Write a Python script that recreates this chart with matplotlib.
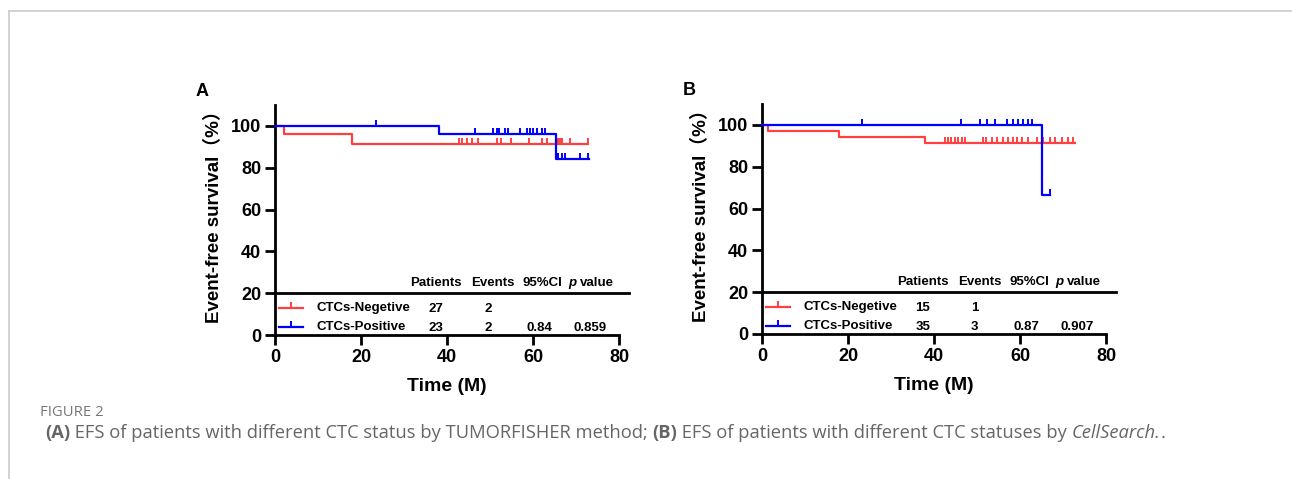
import matplotlib
matplotlib.use("Agg")
import numpy as np
import matplotlib.pyplot as plt
from matplotlib.lines import Line2D

plt.rcParams['font.family'] = ['Liberation Sans', 'Noto Sans CJK SC', 'DejaVu Sans']

# ---- data ----
# panel A (TUMORFISHER)
a_neg_t = [0, 2, 18, 72.9]
a_neg_s = [100, 96.3, 91.5, 91.5]
a_neg_cens = [42.8, 43.5, 44.7, 45.9, 47.3, 51.6, 52.6, 54.8, 59.1, 62.1,
              63.3, 65.9, 66.3, 66.8, 68.6, 72.9]
a_pos_t = [0, 38.2, 65.3, 73.0]
a_pos_s = [100, 96.0, 84.2, 84.2]
a_pos_cens = [23.5, 46.5, 50.8, 51.7, 52.2, 53.5, 54.3, 57.0, 58.5, 59.3,
              60.1, 61.0, 62.0, 62.8, 65.9, 66.7, 67.4, 70.9, 72.9]

# panel B (CellSearch)
b_neg_t = [0, 1.5, 17.9, 38.0, 72.8]
b_neg_s = [100, 97.0, 94.2, 91.4, 91.4]
b_neg_cens = [42.6, 43.3, 44.0, 44.9, 45.6, 46.4, 47.2, 51.5, 52.1, 53.4,
              54.6, 56.1, 57.3, 58.4, 59.2, 60.4, 61.9, 63.9, 65.0, 65.4,
              66.9, 68.1, 69.7, 71.2, 72.4]
b_pos_t = [0, 65.2, 67.0]
b_pos_s = [100, 66.7, 66.7]
b_pos_cens = [23.3, 46.2, 50.7, 52.3, 54.2, 56.9, 58.4, 59.6, 60.8, 61.9,
              62.7, 67.0]

groups = ['CTCs-Negetive', 'CTCs-Positive']
a_patients = ['27', '23']
a_events = ['2', '2']
a_ci = ['', '0.84']
a_p = ['', '0.859']
b_patients = ['15', '35']
b_events = ['1', '3']
b_ci = ['', '0.87']
b_p = ['', '0.907']

red = '#ff4040'
blue = '#0000ff'

W, H = 1292, 479
fig = plt.figure(figsize=(W / 100, H / 100), dpi=100)

# light frame of the figure box
fig.add_artist(Line2D([9 / W, 1], [1 - 11 / H] * 2, transform=fig.transFigure,
                      color='#cccccc', lw=1.2))
fig.add_artist(Line2D([9 / W] * 2, [0, 1 - 11 / H], transform=fig.transFigure,
                      color='#cccccc', lw=1.2))


def km_value(t, s, x):
    idx = np.searchsorted(t, x, side='right') - 1
    return np.array(s)[idx]


def draw_panel(ax, curves, patients, events, ci, pv, letter):
    for t, s, cens, col in curves:
        ax.step(t, s, where='post', color=col, lw=1.6, clip_on=False, zorder=3)
        ax.plot(cens, km_value(t, s, cens), linestyle='none', marker=2,
                markersize=4, markeredgewidth=1.4, color=col, clip_on=False, zorder=3)

    ax.set_xlim(0, 80)
    ax.set_ylim(0, 110)
    ax.set_xticks([0, 20, 40, 60, 80])
    ax.set_yticks([0, 20, 40, 60, 80, 100])
    for sp in ['top', 'right']:
        ax.spines[sp].set_visible(False)
    for sp in ['left', 'bottom']:
        ax.spines[sp].set_linewidth(2)
    ax.tick_params(direction='out', length=7, width=2, labelsize=13, pad=3)
    for lab in ax.get_xticklabels() + ax.get_yticklabels():
        lab.set_fontweight('bold')
    ax.set_xlabel('Time (M)', fontsize=14, fontweight='bold', labelpad=9)
    ax.set_ylabel('Event-free survival（%）', fontsize=13.5, fontweight='bold')
    ax.yaxis.set_label_coords(-0.152, 0.535)

    # table line + header
    ax.axhline(20, xmin=0, xmax=1.03, color='black', lw=2, clip_on=False)
    hy = 25
    ax.text(37.3, hy, 'Patients', ha='center', va='center', fontsize=9.5, fontweight='bold')
    ax.text(50.6, hy, 'Events', ha='center', va='center', fontsize=9.5, fontweight='bold')
    ax.text(62.2, hy, '95%CI', ha='center', va='center', fontsize=9.5, fontweight='bold')
    ax.text(68.2, hy, 'p', ha='left', va='center', fontsize=9.5,
            fontweight='bold', style='italic')
    ax.text(78.8, hy, 'value', ha='right', va='center', fontsize=9.5, fontweight='bold')

    rows_y = [13, 4]
    cols = [red, blue]
    for i in range(2):
        y = rows_y[i]
        ax.plot([1, 6.6], [y, y], color=cols[i], lw=1.6, clip_on=False)
        ax.plot([3.8], [y], marker=2, markersize=4, markeredgewidth=1.4,
                color=cols[i], clip_on=False)
        ax.text(9.7, y, groups[i], ha='left', va='center', fontsize=9.5, fontweight='bold')
        ax.text(37.4, y - 0.8, patients[i], ha='center', va='center', fontsize=9.5, fontweight='bold')
        ax.text(49.5, y - 0.8, events[i], ha='center', va='center', fontsize=9.5, fontweight='bold')
        ax.text(61.5, y - 0.8, ci[i], ha='center', va='center', fontsize=9.5, fontweight='bold')
        ax.text(73.2, y - 0.8, pv[i], ha='center', va='center', fontsize=9.5, fontweight='bold')

    ax.text(-0.23, 1.06, letter, transform=ax.transAxes, fontsize=13,
            fontweight='bold', ha='left', va='center')


ax1 = fig.add_axes([275 / W, 1 - 335 / H, 344 / W, 230 / H])
draw_panel(ax1, [(a_neg_t, a_neg_s, a_neg_cens, red), (a_pos_t, a_pos_s, a_pos_cens, blue)],
           a_patients, a_events, a_ci, a_p, 'A')

ax2 = fig.add_axes([762 / W, 1 - 334 / H, 344 / W, 230 / H])
draw_panel(ax2, [(b_neg_t, b_neg_s, b_neg_cens, red), (b_pos_t, b_pos_s, b_pos_cens, blue)],
           b_patients, b_events, b_ci, b_p, 'B')

# caption
cap_font = ['Open Sans', 'DejaVu Sans']
fig.text(40 / W, 1 - 412 / H, 'FIGURE 2', fontsize=10.7, color='#777777',
         family=cap_font, va='center', ha='left')

pieces = [(' ', 'normal', 'normal'), ('(A)', 'bold', 'normal'),
          (' EFS of patients with different CTC status by TUMORFISHER method; ', 'normal', 'normal'),
          ('(B)', 'bold', 'normal'),
          (' EFS of patients with different CTC statuses by ', 'normal', 'normal'),
          ('CellSearch.', 'normal', 'italic'), ('.', 'normal', 'normal')]
renderer = fig.canvas.get_renderer()
xpos = 40 / W
for txt, wt, st in pieces:
    t = fig.text(xpos, 1 - 433 / H, txt, fontsize=13.2, color='#666666', family=cap_font,
                 fontweight=wt, style=st, va='center', ha='left')
    bb = t.get_window_extent(renderer=renderer)
    xpos += bb.width / W

fig.savefig('out.png', dpi=100)
